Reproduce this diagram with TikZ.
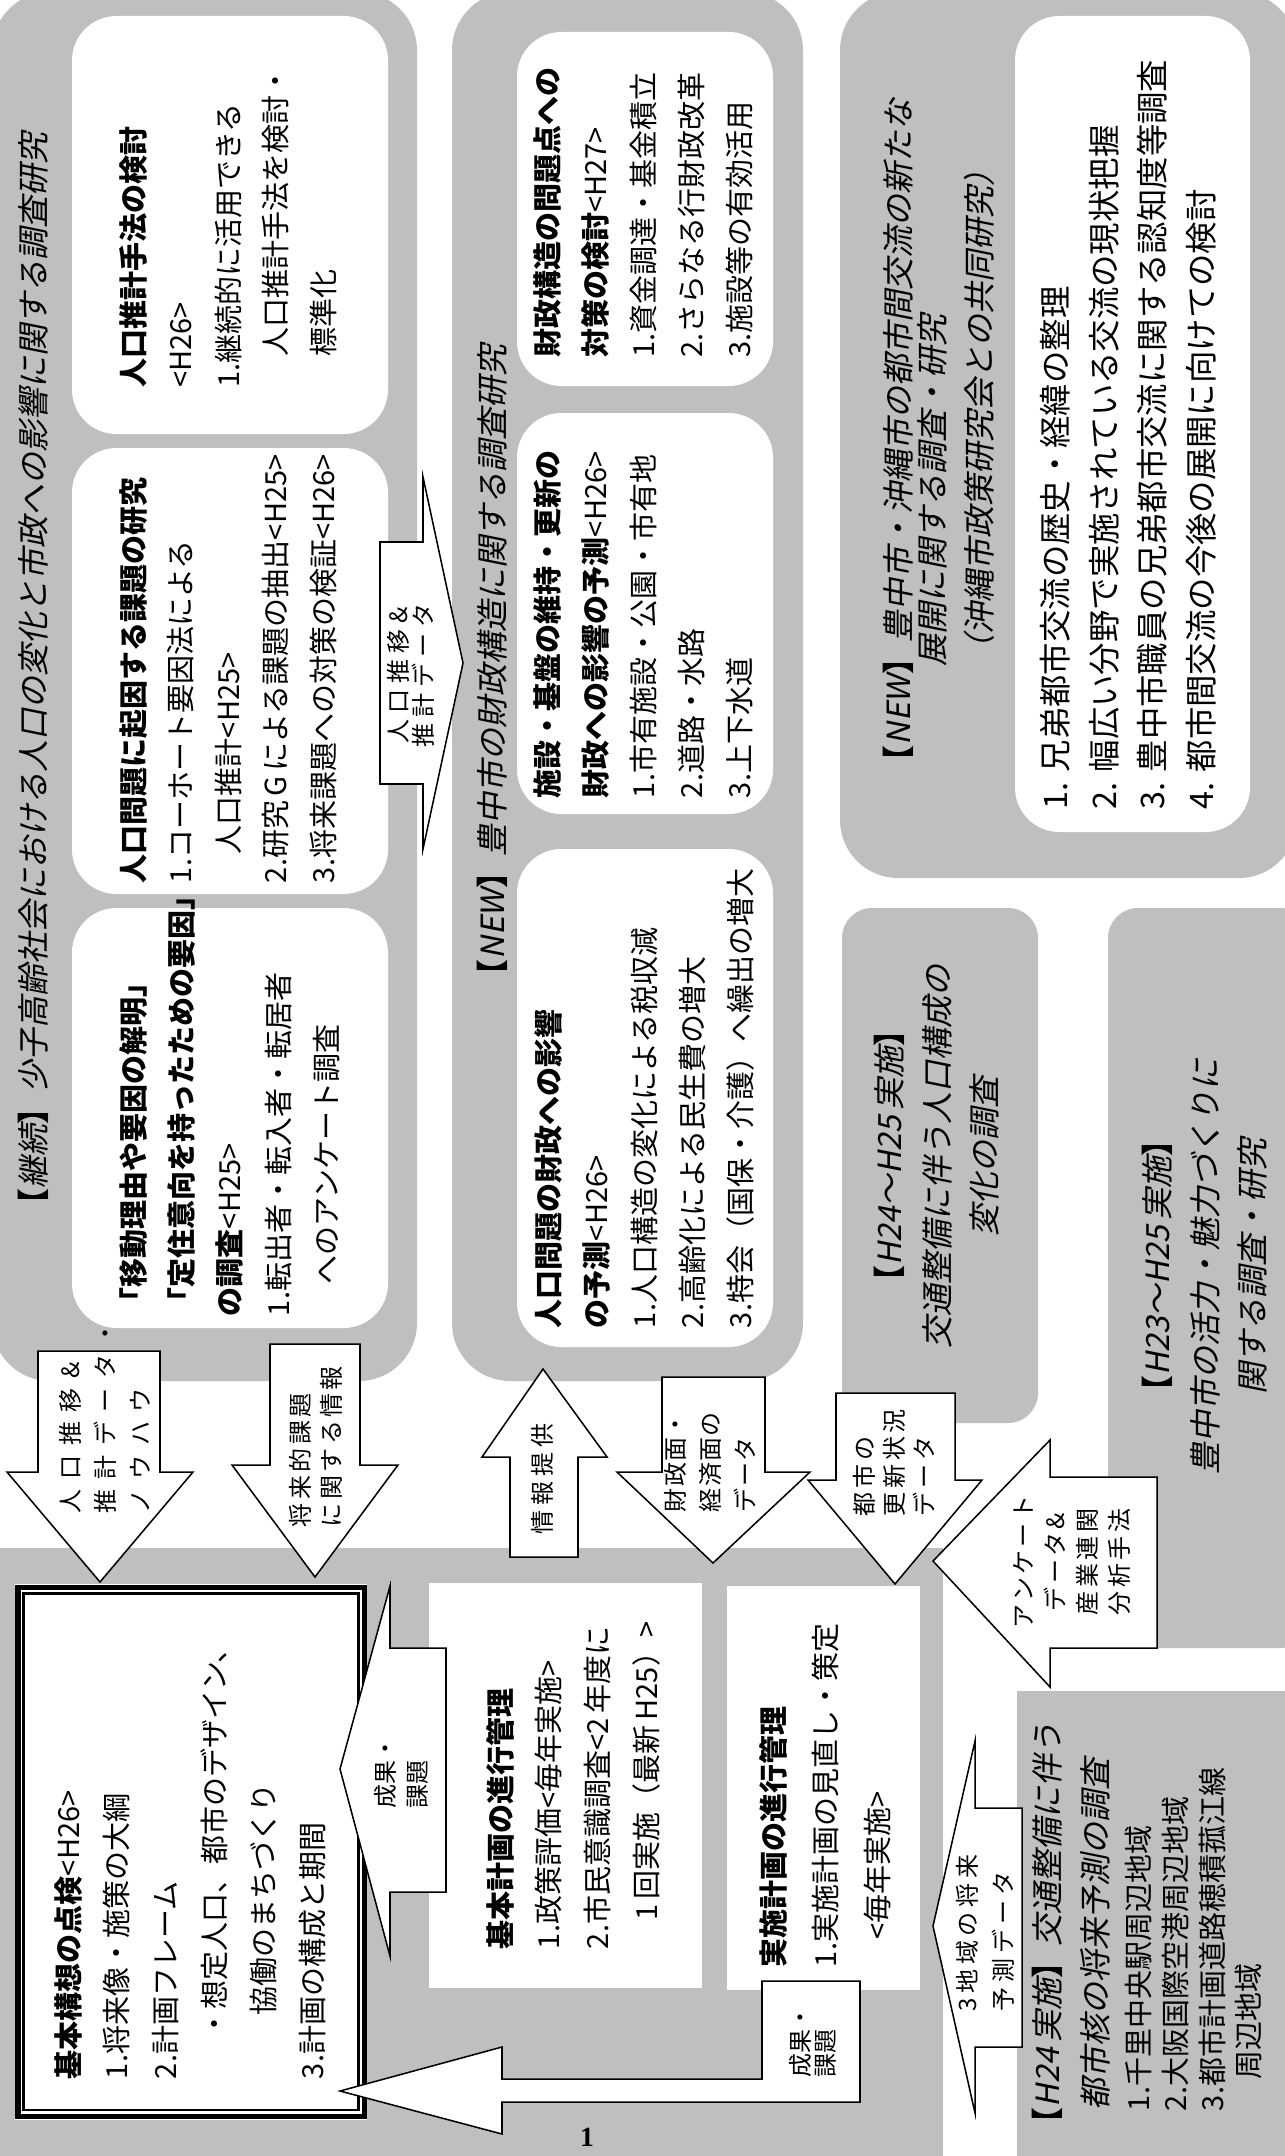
\documentclass[tikz,border=0pt]{standalone}
\usepackage{fontspec}
\setmainfont{Liberation Serif}
\newfontfamily\jp{Noto Sans CJK JP}
\newfontfamily\jpit{Noto Sans CJK JP}[FakeSlant=0.2]
\definecolor{bg}{HTML}{BFBFBF}
\newcommand\st{\rule{0pt}{0.9em}}
\newcommand\lbk{{\jp\bfseries 【}}
\newcommand\rbk{{\jp\bfseries 】}}
\tikzset{
  graybox/.style={fill=bg, rounded corners=20.9pt},
  smallgray/.style={fill=bg, rounded corners=10.8pt},
  whitebox/.style={fill=white, rounded corners=16pt},
  blockarrow/.style={fill=white, draw=black, line width=0.55pt, line join=miter},
  tx/.style={rotate=90, inner sep=0pt, outer sep=0pt, align=left, anchor=north west},
  txc/.style={rotate=90, inner sep=0pt, outer sep=0pt, align=center, anchor=center},
  bd/.style={font={\jp\fontsize{10.44pt}{#1}\selectfont}},
  ttl/.style={font={\jpit\fontsize{11.52pt}{#1}\selectfont}},
  ar/.style 2 args={font={\jp\addfontfeatures{LetterSpace=#2}\fontsize{8.64pt}{#1}\selectfont}},
}
\begin{document}
\begin{tikzpicture}[x=0.36pt, y=-0.36pt]
\useasboundingbox (0,0) rectangle (1285,2156);
\fill[white] (0,0) rectangle (1285,2156);

% gray panels
\fill[graybox] (-8,-8) rectangle (417,1381);
\fill[graybox] (452,-8) rectangle (803,1381);
\fill[graybox] (840,-8) rectangle (1297,878);
\fill[smallgray] (842,908) rectangle (1038,1423);
\fill[smallgray] (1108,908) rectangle (1310,1648);
\fill[bg] (1017,1691) rectangle (1310,2170);
\fill[bg] (-5,1548) rectangle (943,2170);

% white boxes
\fill[whitebox] (72,16) rectangle (388,434);
\fill[whitebox] (72,448) rectangle (388,894);
\fill[whitebox] (72,908) rectangle (388,1328);
\fill[whitebox] (517,32) rectangle (773,386);
\fill[whitebox] (517,413) rectangle (773,814);
\fill[whitebox] (517,849) rectangle (773,1347);
\fill[whitebox] (1015,16) rectangle (1250,832);

% basic concept double box
\fill[white] (15,1584) rectangle (367,2120);
\draw[line width=2pt] (17.8,1587.5) rectangle (364.5,2116.5);
\draw[line width=0.9pt] (23.7,1593.5) rectangle (358.5,2110);
% plan boxes
\fill[white] (429,1583) rectangle (702,1988);
\fill[white] (727,1586) rectangle (920,1990);

% block arrows
\draw[blockarrow] (380,542) -- (423,542) -- (423,477) -- (463,663) -- (423,849) -- (423,784) -- (380,784) -- cycle;
\draw[blockarrow] (38,1351) -- (160,1351) -- (160,1472) -- (193,1472) -- (100,1582) -- (7,1472) -- (38,1472) -- cycle;
\draw[blockarrow] (270,1344) -- (360,1344) -- (360,1465) -- (398,1465) -- (315,1577) -- (232,1465) -- (270,1465) -- cycle;
\draw[blockarrow] (510,1557) -- (510,1457) -- (482,1457) -- (543,1369) -- (607,1457) -- (578,1457) -- (578,1557) -- cycle;
\draw[blockarrow] (662,1377) -- (765,1377) -- (765,1472) -- (810,1472) -- (713,1563) -- (617,1472) -- (662,1472) -- cycle;
\draw[blockarrow] (836,1393) -- (955,1393) -- (955,1480) -- (982,1480) -- (895,1584) -- (808,1480) -- (836,1480) -- cycle;
\draw[blockarrow] (933,1561) -- (1050,1440) -- (1050,1477) -- (1157,1477) -- (1157,1648) -- (1050,1648) -- (1050,1687) -- cycle;
\draw[blockarrow] (933,1926) -- (975,1741) -- (975,1808) -- (1022,1808) -- (1022,2047) -- (975,2047) -- (975,2113) -- cycle;
\draw[blockarrow] (340,1769) -- (390,1586) -- (390,1648) -- (446,1648) -- (446,1892) -- (390,1892) -- (390,1956) -- cycle;
\draw[blockarrow] (340,2091) -- (502,2047) -- (502,2079) -- (762,2079) -- (762,1981) -- (860,1981) -- (860,2102) -- (502,2102) -- (502,2134) -- cycle;

% titles
\node[tx, ttl=14pt] (tA) at (16.4,1220) {\st\lbk 継続\rbk 少子高齢社会における人口の変化と市政への影響に関する調査研究};
\node[tx, ttl=14pt] (tB) at (475.4,991) {\st\lbk NEW\rbk 豊中市の財政構造に関する調査研究};
\node[tx, ttl=14pt] (tC1) at (881.4,777) {\st\lbk NEW\rbk 豊中市・沖縄市の都市間交流の新たな};
\node[tx, ttl=14pt] (tC2) at (915.4,666) {\st 展開に関する調査・研究};
\node[tx, ttl=14pt] (tC3) at (962.4,666) {\st（沖縄市政策研究会との共同研究）};
\node[txc, ttl=17.1pt] (tD) at (937,1156) {\lbk H24～H25\,実施\rbk\\交通整備に伴う人口構成の\\変化の調査};
\node[txc, ttl=17.1pt] (tE) at (1205,1266) {\lbk H23～H25\,実施\rbk\\豊中市の活力・魅力づくりに\\関する調査・研究};
\node[tx, ttl=17.3pt] (tF) at (1030.4,2139) {\st\lbk H24\,実施\rbk 交通整備に伴う\\\hspace*{0.9em}都市核の将来予測の調査};

% box contents
\node[tx, bd=17.1pt] (A3t) at (118,388) {\st\textbf{人口推計手法の検討}\\<H26>\\1.継続的に活用できる\\\hspace*{1.1em}人口推計手法を検討・\\\hspace*{1.1em}標準化};
\node[tx, bd=17.1pt] (A2t) at (118,883) {\st\textbf{人口問題に起因する課題の研究}\\1.コーホート要因法による\\\hspace*{1em}人口推計<H25>\\2.研究\,G\,による課題の抽出<H25>\\3.将来課題への対策の検証<H26>};
\node[tx, bd=17.4pt] (A1t) at (118,1316) {\st\textbf{「移動理由や要因の解明」}\\\textbf{「定住意向を持ったための要因」}\\\textbf{の調査}<H25>\\1.転出者・転入者・転居者\\\hspace*{1.1em}へのアンケート調査};
\node[tx, bd=17.3pt] (B3t) at (532,358) {\st\textbf{財政構造の問題点への}\\\textbf{対策の検討}<H27>\\1.資金調達・基金積立\\2.さらなる行財政改革\\3.施設等の有効活用};
\node[tx, bd=17.3pt] (B2t) at (532,798) {\st\textbf{施設・基盤の維持・更新の}\\\textbf{財政への影響の予測}<H26>\\1.市有施設・公園・市有地\\2.道路・水路\\3.上下水道};
\node[tx, bd=17.3pt] (B1t) at (533,1328) {\st\textbf{人口問題の財政への影響}\\\textbf{の予測}<H26>\\1.人口構造の変化による税収減\\2.高齢化による民生費の増大\\3.特会（国保・介護）へ繰出の増大};
\node[tx, font={\jp\fontsize{11.66pt}{17.6pt}\selectfont}] (Ct) at (1038,809) {\st 1.\hspace{0.3em}兄弟都市交流の歴史・経緯の整理\\2.\hspace{0.3em}幅広い分野で実施されている交流の現状把握\\3.\hspace{0.3em}豊中市職員の兄弟都市交流に関する認知度等調査\\4.\hspace{0.3em}都市間交流の今後の展開に向けての検討};
\node[tx, bd=13.3pt] (Fi) at (1123,2111) {\st 1.千里中央駅周辺地域\\2.大阪国際空港周辺地域\\3.都市計画道路穂積菰江線\\\hspace*{1.1em}周辺地域};
\node[tx, bd=17.6pt] (K1t) at (53,2079) {\st\textbf{基本構想の点検}<H26>\\1.将来像・施策の大綱\\2.計画フレーム\\\hspace*{1.4em}・想定人口、都市のデザイン、\\\hspace*{2.2em}協働のまちづくり\\3.計画の構成と期間};
\node[tx, bd=17.6pt] (K2t) at (485,1949) {\st\textbf{基本計画の進行管理}\\1.政策評価<毎年実施>\\2.市民意識調査<2\,年度に\\\hspace*{1em}1\,回実施（最新\,H25）>};
\node[tx, bd=18.7pt] (K3t) at (758,1967) {\st\textbf{実施計画の進行管理}\\1.実施計画の見直し・策定\\\hspace*{0.95em}<毎年実施>};

% arrow labels
\node[txc, ar={9pt}{25}] (aj) at (411,675) {人口推移\&\\推計データ};
\node[tx, ar={12.6pt}{40}] (ah) at (57.5,1513) {\st 人口推移\&\\推計データ・\\ノウハウ};
\node[tx, ar={11.2pt}{14}] (ai) at (287.5,1527) {\st 将来的課題\\に関する情報};
\node[tx, ar={12pt}{20}] (ag) at (529.5,1534) {\st 情報提供};
\node[tx, ar={12.6pt}{5}] (af) at (662.5,1512) {\st 財政面・\\経済面の\\データ};
\node[tx, ar={10.8pt}{15}] (ae) at (851.5,1516) {\st 都市の\\更新状況\\データ};
\node[txc, ar={11.5pt}{14}] (an) at (1072,1562) {アンケート\\データ\&\\産業連関\\分析手法};
\node[tx, ar={13pt}{20}] (ao) at (954.5,2011) {\st 3\,地域の将来\\予測データ};
\node[tx, ar={11.5pt}{0}] (aa) at (372.5,1808) {\st 成果・\\課題};
\node[tx, ar={9pt}{0}] (ab) at (787.5,2077) {\st 成果・\\課題};

\node[font={\fontsize{10pt}{12pt}\selectfont\bfseries}] (pg) at (587,2137) {1};
\end{tikzpicture}
\end{document}
